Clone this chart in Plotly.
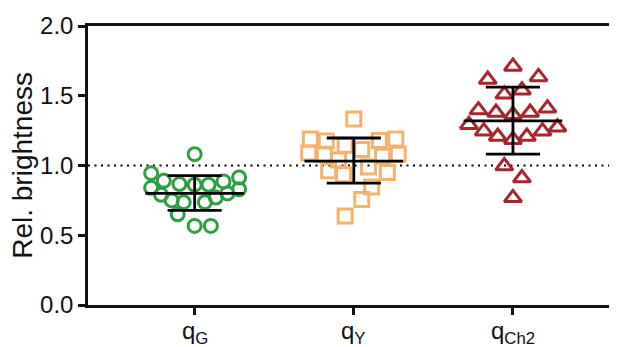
import plotly.graph_objects as go

categories = ["q<sub>G</sub>", "q<sub>Y</sub>", "q<sub>Ch2</sub>"]

green_vals = [1.081, 0.945, 0.89, 0.867, 0.862, 0.862, 0.886, 0.914, 0.83, 0.80,
              0.77, 0.84, 0.79, 0.75, 0.737, 0.737, 0.65, 0.567, 0.567]
green_jit = [0, -43.7, -31, -15.3, 0, 14, 29, 44.7, 44.7, 33,
             21.3, -43.7, -33.7, -23, -11, 10.3, -17, 0, 16.3]

orange_vals = [1.333, 1.19, 1.175, 1.145, 1.18, 1.19, 1.09, 1.08, 1.115, 1.067,
               1.08, 1.04, 0.963, 0.933, 0.99, 0.95, 0.846, 0.756, 0.638]
orange_jit = [0, -43.7, -27.7, -8.7, 25.7, 42.3, -45.3, -29.7, 8, 29,
              44.7, -15.3, -25.3, -10.3, 14.7, 33.7, 18, 8, -8.7]

red_vals = [1.71, 1.616, 1.635, 1.51, 1.54, 1.397, 1.38, 1.364, 1.38, 1.41,
            1.293, 1.246, 1.208, 1.185, 1.208, 1.246, 1.274, 0.996, 0.91, 0.768]
red_jit = [0, -25.3, 25.7, -8.7, 9, -34.7, -17, 0, 17.3, 34.7,
           -44.3, -29.3, -15.3, 0, 14, 29.7, 44.7, -8.7, 9, 0]

means = [0.80, 1.032, 1.32]
sd_hi = [0.928, 1.197, 1.562]
sd_lo = [0.678, 0.874, 1.081]

y_title = "Rel. brightness"

colors = ["#2e9e42", "#f4b26d", "#a5262e"]
symbols = ["circle-open", "square-open", "triangle-up-open"]
sizes = [13, 14, 15]

PX = 160.0  # pixels per category unit (for jitter conversion)

fig = go.Figure()
groups = [(green_vals, green_jit), (orange_vals, orange_jit), (red_vals, red_jit)]
for i, (vals, jit) in enumerate(groups):
    fig.add_trace(go.Scatter(
        x=[i + j / PX for j in jit], y=vals, mode="markers",
        marker=dict(symbol=symbols[i], size=sizes[i], color=colors[i],
                    line=dict(width=3, color=colors[i])),
        showlegend=False, hoverinfo="y"))

# reference line at 1.0
fig.add_shape(type="line", xref="paper", yref="y", x0=0, x1=1, y0=1.0, y1=1.0,
              line=dict(color="black", width=2.2, dash="2px,4.5px"), layer="below")

mw, cw = 0.31, 0.17
for i in range(3):
    lw = 2.8
    fig.add_trace(go.Scatter(x=[i - mw, i + mw], y=[means[i], means[i]], mode="lines",
                             line=dict(color="black", width=lw), showlegend=False, hoverinfo="skip"))
    fig.add_trace(go.Scatter(x=[i, i], y=[sd_lo[i], sd_hi[i]], mode="lines",
                             line=dict(color="black", width=lw), showlegend=False, hoverinfo="skip"))
    for v in (sd_lo[i], sd_hi[i]):
        fig.add_trace(go.Scatter(x=[i - cw, i + cw], y=[v, v], mode="lines",
                                 line=dict(color="black", width=lw), showlegend=False, hoverinfo="skip"))

# category labels as annotations (placed just under the ticks)
for i, lab in enumerate(categories):
    fig.add_annotation(x=i, y=0, xref="x", yref="paper", text=lab, showarrow=False,
                       yanchor="top", yshift=-10, font=dict(size=24, color="#111"))

# y-axis title
fig.add_annotation(x=-0.124, y=0.5, xref="paper", yref="paper", text=y_title,
                   showarrow=False, textangle=-90, xanchor="center", yanchor="middle",
                   font=dict(size=28, color="#111"))

font = "Liberation Sans, Arial, sans-serif"
fig.update_layout(
    width=617, height=347,
    margin=dict(l=80, r=4, t=14, b=50),
    paper_bgcolor="white", plot_bgcolor="white",
    font=dict(family=font, size=24, color="#111"),
    xaxis=dict(range=[-0.67, 2.66], tickvals=[0, 1, 2], showticklabels=False,
               showgrid=False, zeroline=False, showline=True, linecolor="#111",
               linewidth=2.5, mirror=True, ticks="outside", ticklen=7, tickwidth=2.5,
               tickcolor="#111"),
    yaxis=dict(range=[0, 2.0], tickvals=[0, 0.5, 1.0, 1.5, 2.0],
               ticktext=["0.0", "0.5", "1.0", "1.5", "2.0"],
               showgrid=False, zeroline=False, showline=True, linecolor="#111",
               linewidth=2.5, mirror=True, ticks="outside", ticklen=7, tickwidth=2.5,
               tickcolor="#111", tickfont=dict(size=24)),
)

fig.write_html("out.html")
